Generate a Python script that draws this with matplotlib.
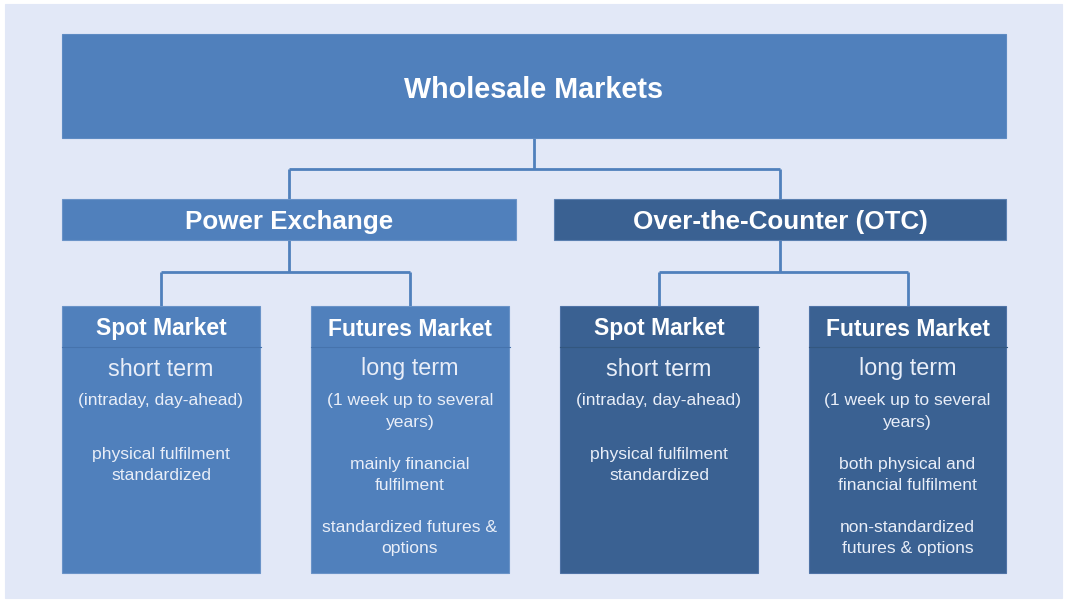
import matplotlib
matplotlib.use("Agg")
import matplotlib.pyplot as plt
from matplotlib.patches import Rectangle

plt.rcParams['font.family'] = ['Liberation Sans', 'DejaVu Sans']

title = "Wholesale Markets"
branches = ["Power Exchange", "Over-the-Counter (OTC)"]
leaf_titles = ["Spot Market", "Futures Market", "Spot Market", "Futures Market"]
leaf_terms = ["short term", "long term", "short term", "long term"]
leaf_lines = [
    [("(intraday, day-ahead)", 399), ("physical fulfilment", 452), ("standardized", 473)],
    [("(1 week up to several", 399), ("years)", 420), ("mainly financial", 462),
     ("fulfilment", 483), ("standardized futures &", 525), ("options", 546)],
    [("(intraday, day-ahead)", 399), ("physical fulfilment", 452), ("standardized", 473)],
    [("(1 week up to several", 399), ("years)", 420), ("both physical and", 462),
     ("financial fulfilment", 483), ("non-standardized", 525), ("futures & options", 546)],
]

LIGHT = "#5080BC"
DARK = "#3A6192"
BG = "#E2E8F7"
LINE = "#5080BC"
TXT = "#E9EEF8"
DY = 2

fig = plt.figure(figsize=(10.66, 6.0), dpi=100)
ax = fig.add_axes([0, 0, 1, 1])
ax.set_xlim(0, 1066)
ax.set_ylim(600, 0)
ax.axis("off")
fig.patch.set_facecolor("white")

def rect(x0, y0, x1, y1, color, z=1, ec=None):
    ax.add_patch(Rectangle((x0, y0), x1 - x0, y1 - y0, facecolor=color,
                           edgecolor=ec if ec else color, lw=0.8, zorder=z))

rect(5, 4, 1062, 598, BG, z=0)

# connectors
def seg(xs, ys):
    ax.plot(xs, ys, color=LINE, lw=2.0, solid_capstyle="butt", zorder=0.5)

seg([534, 534], [138, 169])
seg([289, 780], [169, 169])
seg([289, 289], [169, 199])
seg([780, 780], [169, 199])
seg([289, 289], [240, 272])
seg([161, 410], [272, 272])
seg([161, 161], [272, 306])
seg([410, 410], [272, 306])
seg([780, 780], [240, 272])
seg([659, 908], [272, 272])
seg([659, 659], [272, 306])
seg([908, 908], [272, 306])

# top
rect(62, 34, 1006, 138, LIGHT, ec="#5E8BC3")
ax.text(534, 88 + DY, title, ha="center", va="center", color="white",
        fontsize=20.7, fontweight="bold")

# branches
bx = [(62, 516, LIGHT, "#6A93C8"), (554, 1006, DARK, "#5A7FB0")]
for (x0, x1, c, ec), name in zip(bx, branches):
    rect(x0, 199, x1, 240, c, ec=ec)
    ax.text((x0 + x1) / 2, 220 + DY, name, ha="center", va="center", color="white",
            fontsize=18.7, fontweight="bold")

# leaves
lx = [(62, 260, LIGHT), (311, 509, LIGHT), (560, 758, DARK), (809, 1006, DARK)]
for (x0, x1, c), t, term, lines in zip(lx, leaf_titles, leaf_terms, leaf_lines):
    rect(x0, 306, x1, 573, c, ec="#6A93C8" if c == LIGHT else "#4F73A6")
    ax.plot([x0, x1 + 1], [346.5, 346.5], color="#4673AC" if c == LIGHT else "#33577F",
            lw=0.8, zorder=2)
    cx = (x0 + x1) / 2
    ax.text(cx, 327 + DY, t, ha="center", va="center", color="white",
            fontsize=16.5, fontweight="bold", zorder=3)
    ax.text(cx, 367 + DY, term, ha="center", va="center", color=TXT,
            fontsize=16.8, zorder=3)
    for s, y in lines:
        ax.text(cx, y + DY, s, ha="center", va="center", color=TXT,
                fontsize=12.6, zorder=3)

fig.savefig("out.png", dpi=100, facecolor="white")
